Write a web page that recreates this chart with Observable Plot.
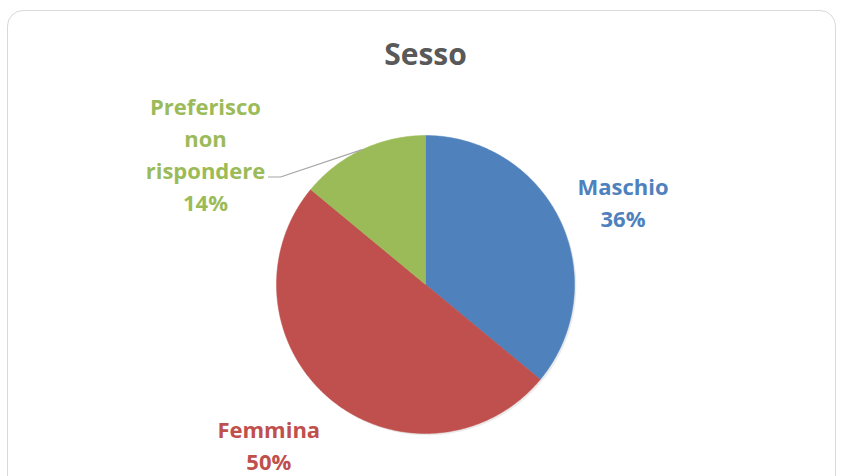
<!DOCTYPE html>
<html>
<head>
<meta charset="utf-8">
<script src="https://cdn.jsdelivr.net/npm/d3@7"></script>
<script src="https://cdn.jsdelivr.net/npm/@observablehq/plot@0.6"></script>
<style>
  html, body { margin: 0; padding: 0; background: #ffffff; }
  #wrap { position: relative; width: 844px; height: 476px; overflow: hidden; }
  #frame { position: absolute; left: 7px; top: 10px; width: 829px; height: 520px;
           border: 1.5px solid #d9d9d9; border-radius: 16px; box-sizing: border-box; }
  #chart { position: absolute; left: 0; top: 0; }
</style>
</head>
<body>
<div id="wrap"><div id="frame"></div><div id="chart"></div></div>
<script>
const title = "Sesso";
const categories = ["Maschio", "Femmina", "Preferisco non rispondere"];
const labelTexts = ["Maschio", "Femmina", "Preferisco\nnon\nrispondere"];
const values = [36, 50, 14];
const percentLabels = ["36%", "50%", "14%"];
const palette = ["#4F81BD", "#C0504D", "#9BBB59"];

// pixel geometry of the pie (center & radius) used only to define scale domains
const W = 844, H = 476, CX = 425, CY = 284, R = 149;

const total = d3.sum(values);
let acc = 0;
const slices = categories.map((c, i) => {
  const a0 = acc / total * 2 * Math.PI;
  acc += values[i];
  const a1 = acc / total * 2 * Math.PI;
  return {cat: c, a0, a1, mid: (a0 + a1) / 2, text: labelTexts[i] + "\n" + percentLabels[i]};
});

// polygon points for each slice (angles clockwise from 12 o'clock)
const poly = [];
for (const s of slices) {
  poly.push({cat: s.cat, x: 0, y: 0});
  const n = Math.max(2, Math.ceil((s.a1 - s.a0) / (Math.PI / 360)));
  for (let k = 0; k <= n; k++) {
    const a = s.a0 + (s.a1 - s.a0) * k / n;
    poly.push({cat: s.cat, x: Math.sin(a), y: Math.cos(a)});
  }
  poly.push({cat: s.cat, x: 0, y: 0});
}

const labelR = 1.45;
const labels = slices.map(s => ({cat: s.cat, text: s.text, x: labelR * Math.sin(s.mid), y: labelR * Math.cos(s.mid)}));
const byCat = c => labels.filter(d => d.cat === c);

// leader line for the green slice: from slice edge to the label
const g = slices[2];
const gl = labels[2];
const leader = [
  {x: Math.sin(g.mid), y: Math.cos(g.mid)},
  {x: gl.x - 53 / R, y: gl.y - 88 / R},
  {x: gl.x - 65 / R, y: gl.y - 88 / R}
];

const plot = Plot.plot({
  width: W, height: H, margin: 0,
  style: {background: "none", fontFamily: "'Open Sans', sans-serif", overflow: "visible"},
  x: {domain: [-CX / R, (W - CX) / R], axis: null},
  y: {domain: [-(H - CY) / R, CY / R], axis: null},
  color: {domain: categories, range: palette},
  marks: [
    Plot.line(poly, {x: d => d.x + 0.012, y: d => d.y - 0.012, z: "cat", fill: "#000", fillOpacity: 0.08, stroke: "none"}),
    Plot.line(poly, {x: "x", y: "y", z: "cat", fill: "cat", stroke: "cat", strokeWidth: 0.5}),
    Plot.line(leader, {x: "x", y: "y", stroke: "#a6a6a6", strokeWidth: 1.2}),
    Plot.text(byCat(categories[0]), {x: "x", y: "y", text: "text", fill: "cat", fontSize: 22, fontWeight: "bold", lineHeight: 1.45, dx: 2, dy: 8}),
    Plot.text(byCat(categories[1]), {x: "x", y: "y", text: "text", fill: "cat", fontSize: 22, fontWeight: "bold", lineHeight: 1.45, dx: -19, dy: -7}),
    Plot.text(byCat(categories[2]), {x: "x", y: "y", text: "text", fill: "cat", fontSize: 22, fontWeight: "bold", lineHeight: 1.45, dx: -128, dy: 64}),
    Plot.text([title], {frameAnchor: "top", text: d => d, dx: 3, dy: 55, fontSize: 30, fontWeight: "bold", fill: "#595959", lineAnchor: "middle"})
  ]
});
document.getElementById("chart").appendChild(plot);
</script>
</body>
</html>
